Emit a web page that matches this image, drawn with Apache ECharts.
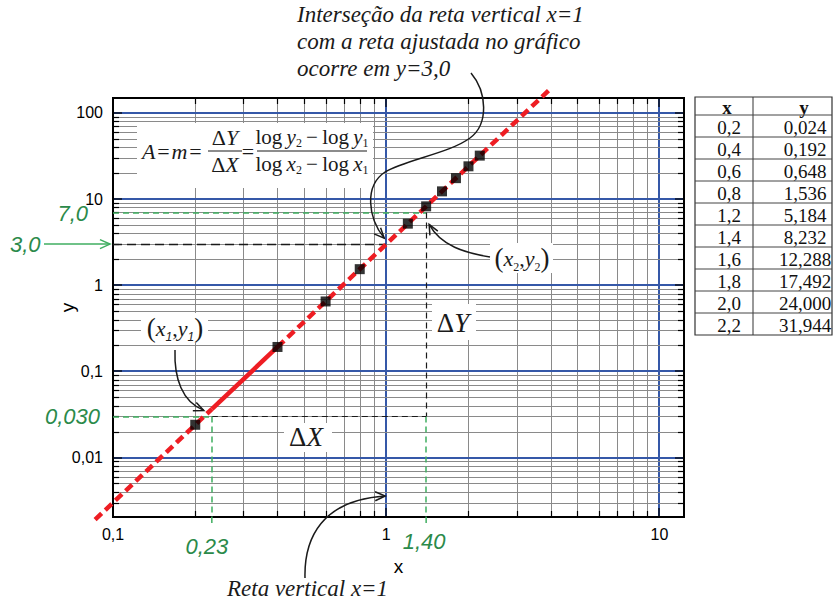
<!DOCTYPE html>
<html>
<head>
<meta charset="utf-8">
<title>Gráfico log-log: reta ajustada</title>
<script src="https://cdn.jsdelivr.net/npm/echarts@6/dist/echarts.min.js"></script>
<style>
  html, body { margin: 0; padding: 0; background: #ffffff; }
  #chart { width: 833px; height: 602px; }
</style>
</head>
<body>
<div id="chart"></div>
<script>
// Measured points (x, y)
const xData = [0.2, 0.4, 0.6, 0.8, 1.2, 1.4, 1.6, 1.8, 2.0, 2.2];
const yData = [0.024, 0.192, 0.648, 1.536, 5.184, 8.232, 12.288, 17.492, 24.000, 31.944];

// Fitted straight line on log-log paper: dashed ends, solid stretch in the middle
const fitLowX = [0.086, 0.23];
const fitLowY = [0.0019, 0.0365];
const fitMidX = [0.23, 0.40];
const fitMidY = [0.0365, 0.192];
const fitHighX = [0.40, 3.96];
const fitHighY = [0.192, 186];

// Readings taken from the fitted line
const x1 = 0.23, y1 = 0.030;
const x2 = 1.40, y2 = 7.0;
const xCut = 1, yCut = 3.0;

// Axis ranges and tick labels
const xRange = [0.1, 12.3];
const yRange = [0.00204, 149];
const xTickValues = [0.1, 1, 10];
const xTickLabels = ['0,1', '1', '10'];
const yTickValues = [0.01, 0.1, 1, 10, 100];
const yTickLabels = ['0,01', '0,1', '1', '10', '100'];

// Log paper rulings
const xMinor = [0.2, 0.3, 0.4, 0.5, 0.6, 0.7, 0.8, 0.9, 2, 3, 4, 5, 6, 7, 8, 9];
const xMajor = [1, 10];
const yMinor = [0.003, 0.004, 0.005, 0.006, 0.007, 0.008, 0.009,
                0.02, 0.03, 0.04, 0.05, 0.06, 0.07, 0.08, 0.09,
                0.2, 0.3, 0.4, 0.5, 0.6, 0.7, 0.8, 0.9,
                2, 3, 4, 5, 6, 7, 8, 9,
                20, 30, 40, 50, 60, 70, 80, 90];
const yMajor = [0.01, 0.1, 1, 10, 100];

const BLUE = '#3558a8';
const GRAY = '#8a8a8a';
const RED = '#ee1d23';
const GREEN_TXT = '#2b8a4a';
const GREEN_LINE = '#3fae60';
const INK = '#1a1a1a';
const SANS = '"Liberation Sans", Arial, sans-serif';
const SERIF = '"Liberation Serif", "Times New Roman", serif';

function tickText(values, labels) {
  return function (v) {
    for (let i = 0; i < values.length; i++) {
      if (Math.abs(v - values[i]) < values[i] * 1e-6) return labels[i];
    }
    return '';
  };
}

function vRule(params, api) {
  const cs = params.coordSys;
  const major = api.value(2) === 1;
  let px = api.coord([api.value(0), 1])[0];
  px = major ? Math.round(px) : Math.round(px) + 0.5;
  const top = cs.y, bot = cs.y + cs.height, t = major ? 9 : 6;
  return {
    type: 'group',
    children: [
      { type: 'line', shape: { x1: px, y1: top + 1, x2: px, y2: bot - 1 },
        style: { stroke: major ? BLUE : GRAY, lineWidth: major ? 2 : 1 } },
      { type: 'line', shape: { x1: px, y1: top, x2: px, y2: top + t }, style: { stroke: '#000', lineWidth: 1.2 } },
      { type: 'line', shape: { x1: px, y1: bot, x2: px, y2: bot - t }, style: { stroke: '#000', lineWidth: 1.2 } }
    ]
  };
}

function hRule(params, api) {
  const cs = params.coordSys;
  const major = api.value(2) === 1;
  let py = api.coord([1, api.value(1)])[1];
  py = major ? Math.round(py) : Math.round(py) + 0.5;
  const left = cs.x, right = cs.x + cs.width, t = major ? 9 : 6;
  return {
    type: 'group',
    children: [
      { type: 'line', shape: { x1: left + 1, y1: py, x2: right - 1, y2: py },
        style: { stroke: major ? BLUE : GRAY, lineWidth: major ? 2 : 1 } },
      { type: 'line', shape: { x1: left, y1: py, x2: left + t, y2: py }, style: { stroke: '#000', lineWidth: 1.2 } },
      { type: 'line', shape: { x1: right, y1: py, x2: right - t, y2: py }, style: { stroke: '#000', lineWidth: 1.2 } }
    ]
  };
}

// Maps a data point to pixels; points past the axis ends are carried on
// along the same log scale, anchored at the two opposite corners of the grid.
function logPoint(api, x, y) {
  const c0 = api.coord([xRange[0], yRange[0]]);
  const c1 = api.coord([xRange[1], yRange[1]]);
  const L = Math.log10;
  const tx = (L(x) - L(xRange[0])) / (L(xRange[1]) - L(xRange[0]));
  const ty = (L(y) - L(yRange[0])) / (L(yRange[1]) - L(yRange[0]));
  return [c0[0] + (c1[0] - c0[0]) * tx, c0[1] + (c1[1] - c0[1]) * ty];
}

function fitSegment(xs, ys, dash) {
  return {
    type: 'custom', z: 8, silent: true, clip: false,
    encode: { x: 0, y: 1 },
    data: [[xs[0], ys[0]]],
    renderItem: function (params, api) {
      const pts = xs.map((x, i) => logPoint(api, x, ys[i]));
      return { type: 'polyline', shape: { points: pts },
        style: { stroke: RED, lineWidth: 4.5, fill: 'none', lineDash: dash, lineCap: 'butt' } };
    }
  };
}

function pairs(xs, ys) { return xs.map((x, i) => [x, ys[i]]); }

function seg(a, b, color, width, dash) {
  return [
    { coord: a, lineStyle: { color: color, width: width, type: dash } },
    { coord: b }
  ];
}

const chart = echarts.init(document.getElementById('chart'), null, { renderer: 'svg', width: 833, height: 602 });

chart.setOption({
  animation: false,
  backgroundColor: '#ffffff',
  grid: { left: 113, top: 98, right: 149, bottom: 85, show: true, borderColor: '#000', borderWidth: 2, backgroundColor: 'transparent' },
  xAxis: {
    type: 'log', logBase: 10, min: xRange[0], max: xRange[1],
    name: 'x', nameLocation: 'middle', nameGap: 40,
    nameTextStyle: { fontFamily: SANS, fontSize: 19, color: '#000' },
    axisLine: { show: false }, axisTick: { show: false }, splitLine: { show: false },
    axisLabel: { formatter: tickText(xTickValues, xTickLabels), fontFamily: SANS, fontSize: 16, color: '#000', margin: 9, showMinLabel: true, showMaxLabel: true }
  },
  yAxis: {
    type: 'log', logBase: 10, min: yRange[0], max: yRange[1],
    name: 'y', nameLocation: 'middle', nameGap: 36, nameMoveOverlap: false,
    nameTextStyle: { fontFamily: SANS, fontSize: 19, color: '#000' },
    axisLine: { show: false }, axisTick: { show: false }, splitLine: { show: false },
    axisLabel: { formatter: tickText(yTickValues, yTickLabels), fontFamily: SANS, fontSize: 16, color: '#000', margin: 10, showMinLabel: true, showMaxLabel: true }
  },
  series: [
    {
      name: 'rulingsX', type: 'custom', z: 1, silent: true, clip: false,
      encode: { x: 0, y: 1 },
      data: xMinor.map(v => [v, 1, 0]).concat(xMajor.map(v => [v, 1, 1])),
      renderItem: vRule
    },
    {
      name: 'rulingsY', type: 'custom', z: 1, silent: true, clip: false,
      encode: { x: 0, y: 1 },
      data: yMinor.map(v => [1, v, 0]).concat(yMajor.map(v => [1, v, 1])),
      renderItem: hRule
    },
    {
      name: 'leituras', type: 'line', z: 5, silent: true, data: [],
      markLine: {
        silent: true, symbol: ['none', 'none'], label: { show: false }, animation: false,
        data: [
          seg([xRange[0], yCut], [xCut, yCut], INK, 1.3, [9, 5]),
          seg([xRange[0], y2], [x2, y2], GREEN_LINE, 1.5, [6, 4]),
          seg([x2, y2], [x2, y1], INK, 1.2, [6, 4]),
          seg([x2, y1], [x2, yRange[0]], GREEN_LINE, 1.5, [6, 4]),
          seg([xRange[0], y1], [x1, y1], GREEN_LINE, 1.5, [6, 4]),
          seg([x1, y1], [x2, y1], INK, 1.2, [6, 4]),
          seg([x1, y1], [x1, yRange[0]], GREEN_LINE, 1.5, [6, 4])
        ]
      }
    },
    fitSegment(fitLowX, fitLowY, [9, 5]),
    fitSegment(fitMidX, fitMidY, null),
    fitSegment(fitHighX, fitHighY, [9, 5]),
    { name: 'dados', type: 'scatter', z: 10, silent: true, symbol: 'rect', symbolSize: 10,
      itemStyle: { color: '#000' }, data: pairs(xData, yData) }
  ]
});

// ---------- annotations ----------
const P = (x, y) => chart.convertToPixel({ gridIndex: 0 }, [x, y]);

function txt(x, y, text, font, fill, align) {
  return { type: 'text', x: x, y: y, z: 30,
    style: { text: text, font: font, fill: fill || INK,
      align: align || 'left', verticalAlign: 'middle', textAlign: align || 'left', textVerticalAlign: 'middle' } };
}
function box(x, y, w, h) {
  return { type: 'rect', z: 25, shape: { x: x, y: y, width: w, height: h }, style: { fill: '#ffffff' } };
}
function hline(xa, xb, y, w) {
  return { type: 'line', z: 30, shape: { x1: xa, y1: y, x2: xb, y2: y }, style: { stroke: INK, lineWidth: w || 1.2 } };
}
function bez(a, c1, c2, b, color) {
  return { type: 'bezierCurve', z: 30,
    shape: { x1: a[0], y1: a[1], cpx1: c1[0], cpy1: c1[1], cpx2: c2[0], cpy2: c2[1], x2: b[0], y2: b[1] },
    style: { stroke: color || INK, fill: 'none', lineWidth: 1.5 } };
}
function head(tx, ty, fx, fy, color) {
  const a = Math.atan2(ty - fy, tx - fx), len = 11, ang = 0.42;
  return { type: 'polyline', z: 30,
    shape: { points: [[tx - len * Math.cos(a - ang), ty - len * Math.sin(a - ang)], [tx, ty],
                      [tx - len * Math.cos(a + ang), ty - len * Math.sin(a + ang)]] },
    style: { stroke: color || INK, fill: 'none', lineWidth: 1.5 } };
}
function dashV(x, ya, yb) {
  return { type: 'line', z: 6, shape: { x1: x, y1: ya, x2: x, y2: yb },
    style: { stroke: GREEN_LINE, lineWidth: 1.5, lineDash: [6, 4] } };
}

const richMath = {
  r: { fontFamily: SERIF, fontSize: 22, lineHeight: 24, fill: INK },
  i: { fontFamily: SERIF, fontSize: 22, fontStyle: 'italic', lineHeight: 24, fill: INK },
  f: { fontFamily: SERIF, fontSize: 21, lineHeight: 24, fill: INK },
  fi: { fontFamily: SERIF, fontSize: 21, fontStyle: 'italic', lineHeight: 24, fill: INK },
  s: { fontFamily: SERIF, fontSize: 12, lineHeight: 12, verticalAlign: 'bottom', fill: INK },
  si: { fontFamily: SANS, fontSize: 12, fontStyle: 'italic', lineHeight: 12, verticalAlign: 'bottom', fill: INK },
  big: { fontFamily: SERIF, fontSize: 27, lineHeight: 30, fill: INK },
  bigi: { fontFamily: SERIF, fontSize: 27, fontStyle: 'italic', lineHeight: 30, fill: INK }
};
function rich(x, y, text, align) {
  return { type: 'text', x: x, y: y, z: 30,
    style: { text: text, rich: richMath, align: align || 'center', verticalAlign: 'middle',
             textAlign: align || 'center', textVerticalAlign: 'middle' } };
}

const g = [];
const ITAL = 'italic 23px ' + SERIF;
const GFONT = 'italic 22px ' + SANS;
const HS = '\u200a', TS = '\u2009';

// Note at the top
g.push(txt(297, 14, 'Interseção da reta vertical x=1', ITAL));
g.push(txt(297, 41, 'com a reta ajustada no gráfico', ITAL));
g.push(txt(297, 68, 'ocorre em y=3,0', ITAL));
const pc = P(xCut, yCut);
const tipC = [pc[0] - 2, pc[1] - 6];
g.push(bez([471, 73], [487, 92], [489, 124], [470, 138]));
g.push(bez([470, 138], [450, 153], [405, 160], [385, 172]));
g.push(bez([385, 172], [364, 186], [368, 218], tipC));
g.push(head(tipC[0], tipC[1], 369, 222));

// Note at the bottom
g.push(txt(227, 588, 'Reta vertical x=1', ITAL));
const pv = P(xCut, yRange[0]);
const tipV = [pv[0] - 1, 496];
g.push(bez([305, 578], [304, 538], [322, 500], tipV));
g.push(head(tipV[0], tipV[1], 340, 497));

// Slope formula
g.push(box(137, 123, 236, 65));
g.push(rich(142, 151, '{i|A}{r|' + HS + '=' + HS + '}{i|m}{r|' + HS + '=}', 'left'));
g.push(rich(225, 137, '{r|Δ}{i|Y}'));
g.push(hline(208, 242, 151));
g.push(rich(225, 164, '{r|Δ}{i|X}'));
g.push(rich(248, 151, '{r|=}'));
g.push(rich(312, 137, '{f|log' + TS + '}{fi|y}{s|2}{f|' + TS + '−' + TS + 'log' + TS + '}{fi|y}{s|1}'));
g.push(hline(257, 367, 151));
g.push(rich(312, 164, '{f|log' + TS + '}{fi|x}{s|2}{f|' + TS + '−' + TS + 'log' + TS + '}{fi|x}{s|1}'));

// Point labels
g.push(box(141, 313, 67, 30));
g.push(rich(175, 328, '{big|(}{i|x}{si|1}{r|,}{i|y}{si|1}{big|)}'));
const p1 = P(x1, y1);
const tip1 = [p1[0] - 8, p1[1] - 6];
g.push(bez([175, 350], [174, 378], [182, 402], tip1));
g.push(head(tip1[0], tip1[1], 186, 403));

g.push(box(490, 243, 63, 30));
g.push(rich(522, 258, '{big|(}{i|x}{s|2}{r|,}{i|y}{s|2}{big|)}'));
const p2 = P(x2, y2);
const tip2 = [p2[0] + 3, p2[1] + 12];
g.push(bez([490, 257], [465, 253], [441, 246], tip2));
g.push(head(tip2[0], tip2[1], 438, 241));

// Increments
g.push(box(284, 423, 48, 29));
g.push(rich(306, 437, '{big|Δ}{bigi|X}'));
g.push(box(432, 304, 44, 36));
g.push(rich(453, 323, '{big|Δ}{bigi|Y}'));

// Green readings
const q7 = P(xRange[0], y2), q3 = P(xRange[0], yCut), q03 = P(xRange[0], y1);
const bottomEdge = P(1, yRange[0])[1];
g.push(txt(88, q7[1] + 1, '7,0', GFONT, GREEN_TXT, 'right'));
g.push(txt(10, q3[1], '3,0', GFONT, GREEN_TXT, 'left'));
g.push({ type: 'line', z: 30, shape: { x1: 44, y1: q3[1], x2: q3[0] - 3, y2: q3[1] }, style: { stroke: GREEN_LINE, lineWidth: 1.5 } });
g.push(head(q3[0] - 3, q3[1], 40, q3[1], GREEN_LINE));
g.push(txt(100, q03[1], '0,030', GFONT, GREEN_TXT, 'right'));
g.push(dashV(P(x1, 1)[0], bottomEdge, bottomEdge + 8));
g.push(dashV(P(x2, 1)[0], bottomEdge, bottomEdge + 8));
g.push(txt(P(x1, 1)[0] - 5, 546, '0,23', GFONT, GREEN_TXT, 'center'));
g.push(txt(P(x2, 1)[0] - 2, 541, '1,40', GFONT, GREEN_TXT, 'center'));

// Data table
const tL = 695, tM = 753, tR = 832, tTop = 97, hH = 18, rH = 22;
const tBot = tTop + hH + rH * xData.length;
g.push({ type: 'rect', z: 30, shape: { x: tL, y: tTop, width: tR - tL, height: tBot - tTop }, style: { fill: 'none', stroke: '#333', lineWidth: 1.2 } });
g.push({ type: 'line', z: 30, shape: { x1: tM, y1: tTop, x2: tM, y2: tBot }, style: { stroke: '#333', lineWidth: 1 } });
g.push(txt(727, tTop + hH / 2 + 1, 'x', 'bold 19px ' + SERIF, '#111', 'center'));
g.push(txt(804, tTop + hH / 2 + 1, 'y', 'bold 19px ' + SERIF, '#111', 'center'));
for (let i = 0; i < xData.length; i++) {
  const yTop = tTop + hH + rH * i;
  g.push({ type: 'line', z: 30, shape: { x1: tL, y1: yTop, x2: tR, y2: yTop }, style: { stroke: '#444', lineWidth: 1 } });
  g.push(txt(729, yTop + rH / 2 + 1, xData[i].toFixed(1).replace('.', ','), '19px ' + SERIF, '#111', 'center'));
  g.push(txt(805, yTop + rH / 2 + 1, yData[i].toFixed(3).replace('.', ','), '19px ' + SERIF, '#111', 'center'));
}

chart.setOption({ graphic: { elements: g } });
</script>
</body>
</html>
